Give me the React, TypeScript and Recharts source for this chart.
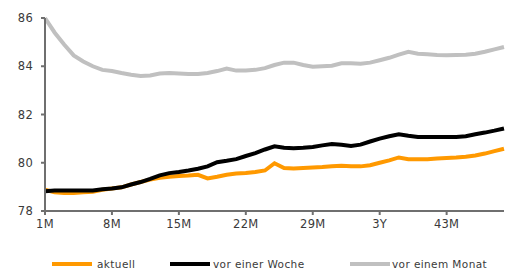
import React from "react";
import { LineChart, Line, XAxis, YAxis } from "recharts";

const months: number[] = Array.from({ length: 49 }, (_, i) => i + 1);

const aktuell: number[] = [
  78.88, 78.78, 78.75, 78.75, 78.78, 78.8, 78.88, 78.93, 78.98, 79.1,
  79.2, 79.3, 79.38, 79.42, 79.45, 79.47, 79.5, 79.35, 79.42, 79.5,
  79.55, 79.58, 79.62, 79.68, 79.98, 79.78, 79.76, 79.78, 79.8, 79.82,
  79.85, 79.88, 79.85, 79.85, 79.9, 80.0, 80.1, 80.22, 80.15, 80.15,
  80.15, 80.18, 80.2, 80.22, 80.25, 80.3, 80.38, 80.48, 80.58,
];

const vorEinerWoche: number[] = [
  78.82, 78.85, 78.85, 78.85, 78.85, 78.85, 78.9, 78.93, 78.98, 79.1,
  79.2, 79.33, 79.48, 79.57, 79.62, 79.68, 79.75, 79.85, 80.02, 80.08,
  80.15, 80.28, 80.4, 80.55, 80.68, 80.62, 80.6, 80.62, 80.65, 80.72,
  80.78, 80.75, 80.7, 80.75, 80.88, 81.0, 81.1, 81.18, 81.12, 81.07,
  81.07, 81.07, 81.07, 81.07, 81.1, 81.18, 81.25, 81.33, 81.42,
];

const vorEinemMonat: number[] = [
  86.0, 85.4, 84.9, 84.45, 84.2, 84.0, 83.85, 83.8, 83.72, 83.65,
  83.6, 83.62, 83.7, 83.72, 83.7, 83.68, 83.68, 83.72, 83.8, 83.9,
  83.82, 83.82, 83.85, 83.92, 84.05, 84.15, 84.15, 84.05, 83.98, 84.0,
  84.02, 84.12, 84.12, 84.1, 84.15, 84.25, 84.35, 84.48, 84.6, 84.52,
  84.5, 84.47, 84.46, 84.47, 84.48, 84.52, 84.6, 84.7, 84.8,
];

const xTicks: number[] = [1, 8, 15, 22, 29, 36, 43];
const xTickLabels: string[] = ["1M", "8M", "15M", "22M", "29M", "3Y", "43M"];
const yTicks: number[] = [78, 80, 82, 84, 86];

const seriesNames: string[] = ["aktuell", "vor einer Woche", "vor einem Monat"];
const seriesColors: string[] = ["#FF9900", "#000000", "#C0C0C0"];

const data = months.map((m, i) => ({
  m,
  a: aktuell[i],
  w: vorEinerWoche[i],
  mo: vorEinemMonat[i],
}));

const fontFamily = "'DejaVu Sans', Arial, sans-serif";
const tickStyle = { fontSize: 11.5, fill: "#3a3a3a", fontFamily, letterSpacing: 0.3 };

const legendPos = [
  { lineLeft: 52, textLeft: 97 },
  { lineLeft: 170, textLeft: 213 },
  { lineLeft: 350, textLeft: 392 },
];

export default function App() {
  return (
    <div style={{ position: "absolute", left: 0, top: 0, width: 505, height: 275, background: "#fff" }}>
      <LineChart width={505} height={275} data={data} margin={{ top: 18, right: 1, left: 0, bottom: 44 }}>
        <XAxis
          dataKey="m"
          type="number"
          domain={[1, 49]}
          ticks={xTicks}
          tickFormatter={(v: number) => xTickLabels[xTicks.indexOf(v)] ?? ""}
          height={20}
          tickSize={4}
          tickMargin={5}
          stroke="#6f6f6f"
          strokeWidth={2}
          tick={tickStyle}
          interval={0}
        />
        <YAxis
          type="number"
          domain={[78, 86]}
          ticks={yTicks}
          width={45}
          tickSize={4}
          tickMargin={8}
          stroke="#6f6f6f"
          strokeWidth={2}
          tick={tickStyle}
          interval={0}
        />
        <Line type="linear" dataKey="mo" stroke={seriesColors[2]} strokeWidth={4} dot={false} isAnimationActive={false} />
        <Line type="linear" dataKey="a" stroke={seriesColors[0]} strokeWidth={4} dot={false} isAnimationActive={false} />
        <Line type="linear" dataKey="w" stroke={seriesColors[1]} strokeWidth={4} dot={false} isAnimationActive={false} />
      </LineChart>
      {seriesNames.map((name, i) => (
        <React.Fragment key={name}>
          <div
            style={{
              position: "absolute",
              left: legendPos[i].lineLeft,
              top: 262,
              width: 40,
              height: 4,
              background: seriesColors[i],
            }}
          />
          <div
            style={{
              position: "absolute",
              left: legendPos[i].textLeft,
              top: 257,
              fontSize: 10.5,
              lineHeight: "14px",
              color: "#3a3a3a",
              fontFamily,
              letterSpacing: 0.4,
              whiteSpace: "nowrap",
            }}
          >
            {name}
          </div>
        </React.Fragment>
      ))}
    </div>
  );
}
